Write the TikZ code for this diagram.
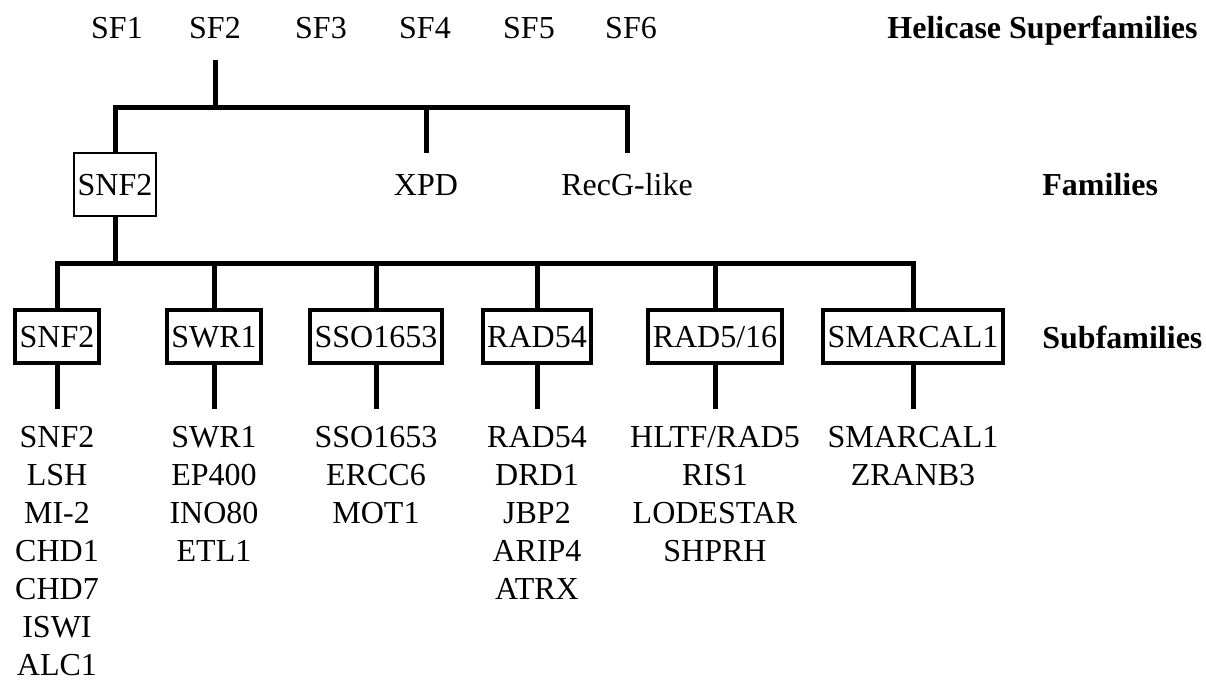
\documentclass[tikz,border=0pt]{standalone}
\usepackage{fontspec}
\setmainfont{Liberation Serif}
\usetikzlibrary{positioning}

\tikzset{
  sflbl/.style={inner sep=0pt, minimum height=32pt},
  fam/.style={inner sep=0pt, minimum height=31.5pt, text height=10.6pt, text depth=0pt},
  fambox/.style={fam, draw, line width=1pt, inner xsep=1.8pt},
  subbox/.style={draw, line width=2pt, inner xsep=2.25pt, inner ysep=0pt,
    minimum height=26.5pt, text height=10.6pt, text depth=0pt},
  members/.style={align=center, inner xsep=0pt, inner ysep=8.5pt},
  conn/.style={line width=2.5pt},
  rowlbl/.style={inner sep=0pt, font={\fontsize{16}{19}\selectfont\bfseries}}
}

\begin{document}
\begin{tikzpicture}[x=0.5pt, y=-0.5pt, font=\fontsize{16}{19}\selectfont]
\useasboundingbox (0,0) rectangle (1206,680);

% --- Superfamilies on top ---
\node[sflbl] (sf1) at (117,28) {SF1};
\node[sflbl] (sf2) at (215,28) {SF2};
\node[sflbl] (sf3) at (321,28) {SF3};
\node[sflbl] (sf4) at (425,28) {SF4};
\node[sflbl] (sf5) at (529,28) {SF5};
\node[sflbl] (sf6) at (631,28) {SF6};

% --- Families ---
\node[fambox] (fSNF2) at (115,184.5) {SNF2};
\node[fam] (fXPD) at (426,184.5) {XPD};
\node[fam] (fRecG) at (627,184.5) {RecG-like};

% --- Subfamilies ---
\node[subbox] (sSNF2) at (57,336.5) {SNF2};
\node[subbox] (sSWR1) at (214,336.5) {SWR1};
\node[subbox] (sSSO) at (376,336.5) {SSO1653};
\node[subbox] (sRAD54) at (537,336.5) {RAD54};
\node[subbox] (sRAD5) at (715,336.5) {RAD5/16};
\node[subbox] (sSMARCAL) at (913,336.5) {SMARCAL1};

% --- members of each subfamily ---
\node[members, below=22pt of sSNF2] (lSNF2) {SNF2\\LSH\\MI-2\\CHD1\\CHD7\\ISWI\\ALC1};
\node[members, below=22pt of sSWR1] (lSWR1) {SWR1\\EP400\\INO80\\ETL1};
\node[members, below=22pt of sSSO] (lSSO) {SSO1653\\ERCC6\\MOT1};
\node[members, below=22pt of sRAD54] (lRAD54) {RAD54\\DRD1\\JBP2\\ARIP4\\ATRX};
\node[members, below=22pt of sRAD5] (lRAD5) {HLTF/RAD5\\RIS1\\LODESTAR\\SHPRH};
\node[members, below=22pt of sSMARCAL] (lSMARCAL) {SMARCAL1\\ZRANB3};

% --- row labels on the right ---
\node[rowlbl, anchor=base east] (rowSF) at (1198,39) {Helicase Superfamilies};
\node[rowlbl, anchor=base west] (rowF) at (1042,195) {Families};
\node[rowlbl, anchor=base west] (rowS) at (1042,348) {Subfamilies};

% --- tree from SF2 to the families ---
\coordinate (bar1) at (0,107);
\draw[conn] (sf2.south) -- (sf2.south |- bar1);
\draw[conn] (fSNF2.north) |- (bar1 -| fRecG.north) -- (fRecG.north);
\draw[conn] (fXPD.north) -- (fXPD.north |- bar1);

% --- tree from SNF2 to the subfamilies ---
\coordinate (bar2) at (0,263);
\draw[conn] (fSNF2.south) -- (fSNF2.south |- bar2);
\draw[conn] (sSNF2.north) |- (bar2 -| sSMARCAL.north) -- (sSMARCAL.north);
\draw[conn] (sSWR1.north) -- (sSWR1.north |- bar2);
\draw[conn] (sSSO.north) -- (sSSO.north |- bar2);
\draw[conn] (sRAD54.north) -- (sRAD54.north |- bar2);
\draw[conn] (sRAD5.north) -- (sRAD5.north |- bar2);

% --- subfamilies to their members ---
\draw[conn] (sSNF2.south) -- (lSNF2.north);
\draw[conn] (sSWR1.south) -- (lSWR1.north);
\draw[conn] (sSSO.south) -- (lSSO.north);
\draw[conn] (sRAD54.south) -- (lRAD54.north);
\draw[conn] (sRAD5.south) -- (lRAD5.north);
\draw[conn] (sSMARCAL.south) -- (lSMARCAL.north);

\end{tikzpicture}
\end{document}
